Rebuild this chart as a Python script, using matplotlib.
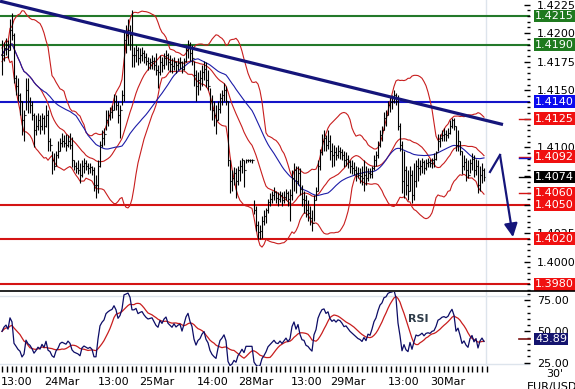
import numpy as np
import pandas as pd
import matplotlib
matplotlib.use("Agg")
import matplotlib.pyplot as plt
from matplotlib import transforms
from matplotlib.ticker import FixedLocator, MultipleLocator, FormatStrFormatter

# ---------------- data (EUR/USD 30' bars, prices in pips *1e-4) ----------------
high_pips = [
    14194, 14192, 14196, 14194, 14212, 14218, 14200, 14163, 14161, 14148,
    14141, 14133, 14161, 14161, 14144, 14141, 14130, 14128, 14130, 14128,
    14130, 14128, 14137, 14133, 14108, 14097, 14095, 14097, 14106, 14108,
    14113, 14111, 14112, 14111, 14113, 14109, 14089, 14087, 14089, 14086,
    14089, 14091, 14089, 14086, 14086, 14084, 14083, 14076, 14089, 14106,
    14115, 14117, 14133, 14133, 14135, 14137, 14147, 14146, 14141, 14137,
    14150, 14203, 14207, 14212, 14207, 14220, 14188, 14190, 14188, 14187,
    14188, 14185, 14183, 14179, 14178, 14181, 14179, 14183, 14172, 14181,
    14179, 14183, 14185, 14183, 14181, 14178, 14179, 14176, 14178, 14179,
    14176, 14178, 14190, 14194, 14192, 14190, 14176, 14168, 14166, 14168,
    14172, 14176, 14175, 14168, 14152, 14146, 14141, 14137, 14141, 14148,
    14150, 14156, 14154, 14141, 14089, 14080, 14083, 14082, 14084, 14089,
    14091, 14089, 14090, 14090, 14090, 14090, 14054, 14049, 14036, 14032,
    14040, 14045, 14047, 14055, 14060, 14062, 14065, 14062, 14061, 14062,
    14061, 14062, 14064, 14062, 14064, 14080, 14086, 14084, 14084, 14082,
    14067, 14062, 14058, 14054, 14049, 14045, 14058, 14065, 14089, 14099,
    14112, 14115, 14111, 14115, 14111, 14104, 14102, 14100, 14102, 14100,
    14099, 14097, 14096, 14093, 14089, 14089, 14087, 14084, 14083, 14082,
    14084, 14089, 14084, 14082, 14082, 14084, 14093, 14097, 14106, 14115,
    14119, 14131, 14133, 14141, 14144, 14146, 14150, 14148, 14146, 14121,
    14106, 14097, 14084, 14080, 14084, 14080, 14086, 14089, 14091, 14089,
    14091, 14089, 14090, 14091, 14090, 14091, 14095, 14097, 14112, 14112,
    14115, 14117, 14115, 14117, 14124, 14126, 14126, 14119, 14115, 14106,
    14097, 14093, 14091, 14089, 14090, 14095, 14093, 14090, 14089, 14084,
    14086, 14082]
low_pips = [
    14163, 14176, 14181, 14178, 14185, 14194, 14156, 14146, 14141, 14128,
    14111, 14106, 14133, 14130, 14130, 14124, 14100, 14111, 14115, 14112,
    14115, 14112, 14118, 14097, 14097, 14077, 14080, 14084, 14091, 14097,
    14100, 14100, 14097, 14100, 14099, 14083, 14080, 14078, 14077, 14069,
    14074, 14078, 14080, 14077, 14078, 14076, 14062, 14056, 14060, 14083,
    14100, 14102, 14115, 14119, 14124, 14126, 14133, 14133, 14121, 14108,
    14137, 14141, 14183, 14190, 14185, 14170, 14170, 14175, 14172, 14174,
    14176, 14174, 14172, 14168, 14169, 14169, 14168, 14163, 14152, 14163,
    14166, 14169, 14172, 14168, 14166, 14165, 14168, 14165, 14168, 14169,
    14165, 14168, 14175, 14178, 14176, 14172, 14154, 14141, 14146, 14150,
    14154, 14159, 14153, 14150, 14133, 14124, 14119, 14112, 14124, 14130,
    14137, 14141, 14137, 14084, 14060, 14062, 14067, 14056, 14067, 14071,
    14078, 14065, 14086, 14087, 14087, 14086, 14042, 14027, 14020, 14020,
    14021, 14032, 14034, 14043, 14049, 14051, 14054, 14051, 14049, 14052,
    14049, 14051, 14054, 14049, 14036, 14054, 14062, 14060, 14067, 14058,
    14049, 14043, 14039, 14036, 14032, 14027, 14036, 14054, 14062, 14080,
    14093, 14097, 14097, 14099, 14089, 14083, 14084, 14089, 14091, 14090,
    14089, 14083, 14084, 14082, 14078, 14077, 14076, 14071, 14073, 14069,
    14067, 14062, 14067, 14071, 14073, 14073, 14080, 14084, 14091, 14100,
    14106, 14115, 14119, 14128, 14131, 14134, 14139, 14137, 14115, 14097,
    14060, 14056, 14058, 14054, 14062, 14051, 14054, 14065, 14071, 14076,
    14078, 14077, 14080, 14083, 14083, 14082, 14083, 14089, 14097, 14100,
    14106, 14106, 14106, 14108, 14112, 14117, 14115, 14097, 14097, 14093,
    14077, 14080, 14071, 14073, 14078, 14080, 14074, 14076, 14060, 14062,
    14069, 14071]
close_pips = [
    14181, 14187, 14190, 14185, 14203, 14198, 14161, 14154, 14146, 14141,
    14124, 14128, 14150, 14141, 14137, 14128, 14115, 14119, 14124, 14119,
    14126, 14119, 14128, 14106, 14102, 14089, 14084, 14093, 14097, 14104,
    14106, 14104, 14102, 14106, 14102, 14089, 14084, 14082, 14080, 14076,
    14084, 14086, 14084, 14082, 14083, 14080, 14067, 14067, 14084, 14102,
    14108, 14112, 14124, 14128, 14131, 14133, 14141, 14137, 14128, 14133,
    14146, 14194, 14198, 14203, 14198, 14181, 14181, 14185, 14178, 14181,
    14183, 14179, 14176, 14174, 14175, 14176, 14172, 14168, 14166, 14175,
    14172, 14178, 14181, 14175, 14173, 14171, 14175, 14172, 14174, 14175,
    14169, 14176, 14185, 14190, 14183, 14178, 14163, 14154, 14159, 14161,
    14166, 14169, 14159, 14154, 14141, 14133, 14128, 14124, 14134, 14143,
    14146, 14150, 14141, 14089, 14071, 14073, 14078, 14071, 14080, 14084,
    14089, 14080, 14089, 14089, 14089, 14089, 14045, 14032, 14026, 14027,
    14036, 14040, 14045, 14052, 14055, 14058, 14061, 14056, 14055, 14058,
    14054, 14057, 14060, 14055, 14058, 14073, 14080, 14071, 14078, 14064,
    14055, 14054, 14045, 14043, 14038, 14034, 14054, 14062, 14084, 14096,
    14106, 14108, 14102, 14106, 14097, 14093, 14096, 14093, 14097, 14096,
    14093, 14089, 14090, 14087, 14084, 14082, 14080, 14078, 14076, 14075,
    14073, 14076, 14073, 14078, 14077, 14082, 14089, 14093, 14102, 14111,
    14115, 14126, 14128, 14137, 14140, 14141, 14146, 14141, 14119, 14102,
    14071, 14080, 14067, 14062, 14076, 14058, 14071, 14084, 14082, 14084,
    14087, 14082, 14086, 14087, 14086, 14089, 14090, 14096, 14106, 14108,
    14111, 14112, 14111, 14113, 14119, 14124, 14119, 14102, 14106, 14097,
    14084, 14087, 14080, 14076, 14086, 14090, 14080, 14084, 14067, 14076,
    14080, 14074]

x_tick_pos = [7.5, 30, 56, 77.5, 105.5, 127, 152.5, 173, 201, 223]
x_tick_labels = ["13:00", "24Mar", "13:00", "25Mar", "14:00", "28Mar",
                 "13:00", "29Mar", "13:00", "30Mar"]

green_levels = [1.4215, 1.4190]
blue_levels = [1.4140]
red_levels = [1.4050, 1.4020, 1.3980]

trend_idx = [-1, 250.5]
trend_px = [1.4228, 1.4120]

arrow_idx = [244, 249, 255.5]
arrow_px = [1.40785, 1.40934, 1.40215]

box_values = [1.4215, 1.4190, 1.4140, 1.4125, 1.4092, 1.4074, 1.4060, 1.4050, 1.4020, 1.3980]
box_kinds = ["g", "g", "b", "r", "r", "k", "r", "r", "r", "r"]
marker_values = [1.4125, 1.4092, 1.4074, 1.4060]
marker_kinds = ["r", "r", "k", "r"]
rsi_last = 43.89

# ---------------- derived series ----------------
high = np.array(high_pips) / 10000.0
low = np.array(low_pips) / 10000.0
close = np.array(close_pips) / 10000.0
opn = np.concatenate([[close[0]], close[:-1]])
n = len(close)
idx = np.arange(n)
cs = pd.Series(close)
mid = cs.rolling(20, min_periods=1).mean()
sd = cs.rolling(20, min_periods=2).std(ddof=0).bfill()
upper = mid + 2 * sd
lower = mid - 2 * sd
ma_slow = cs.rolling(38, min_periods=1).mean()

# Wilder RSI(14), averages seeded neutral (no earlier history available)
RSI_N = 14
delta = np.diff(close, prepend=close[0])
seed = np.abs(delta).mean() / 2
ag, al = seed, seed
rsi_vals = []
for d in delta:
    ag += (max(d, 0) - ag) / RSI_N
    al += (max(-d, 0) - al) / RSI_N
    rsi_vals.append(100 * ag / (ag + al))
rsi = pd.Series(rsi_vals)
rsi_sig = rsi.rolling(9, min_periods=1).mean()

# ---------------- colours ----------------
C = {"g": "#23792a", "b": "#1414c8", "r": "#d41414", "k": "#000000"}
BOX = {"g": "#1f7a1f", "b": "#0a0aee", "r": "#f01010", "k": "#000000"}
NAVY = "#15157a"
GRIDC = "#dde4ec"

W, H = 575, 389
fig = plt.figure(figsize=(W / 100, H / 100), dpi=100)
fig.patch.set_facecolor("white")
ax = fig.add_axes([0, 98 / H, 530 / W, 291 / H])
rx = fig.add_axes([0, 23 / H, 530 / W, 74 / H])

XL = (-1, 264)
for a in (ax, rx):
    a.set_xlim(*XL)
    for s in a.spines.values():
        s.set_visible(False)
    a.axvline(242, color=GRIDC, lw=1, zorder=0)

# ---------------- main panel ----------------
ax.set_ylim(1.39743, 1.42290)
for v in green_levels:
    ax.axhline(v, color=C["g"], lw=1.5, zorder=1)
for v in blue_levels:
    ax.axhline(v, color=C["b"], lw=1.5, zorder=1)
for v in red_levels:
    ax.axhline(v, color=C["r"], lw=1.5, zorder=1)

ax.plot(idx, upper, color="#c81e1e", lw=0.8, zorder=2)
ax.plot(idx, mid, color="#c81e1e", lw=0.8, zorder=2)
ax.plot(idx, lower, color="#c81e1e", lw=0.8, zorder=2)
ax.plot(idx, ma_slow, color="#1c1ca8", lw=0.8, zorder=2)

ax.vlines(idx, low, high, color="black", lw=0.8, zorder=3)
ax.hlines(opn, idx - 0.5, idx, color="black", lw=0.8, zorder=3)
ax.hlines(close, idx, idx + 0.5, color="black", lw=0.8, zorder=3)

ax.plot(trend_idx, trend_px, color=NAVY, lw=2.3, solid_capstyle="butt", zorder=4)
ax.plot(arrow_idx[:2], arrow_px[:2], color=NAVY, lw=1.6, zorder=4)
ax.annotate("", xy=(arrow_idx[2], arrow_px[2]), xytext=(arrow_idx[1], arrow_px[1]),
            arrowprops=dict(arrowstyle="-|>,head_length=0.8,head_width=0.4",
                            color=NAVY, lw=1.6, shrinkA=0, shrinkB=0), zorder=4)

bt = transforms.blended_transform_factory(ax.transAxes, ax.transData)
for v, k in zip(marker_values, marker_kinds):
    ax.plot([519 / 530, 1.0], [v, v], color=C[k], lw=1.0, transform=bt, clip_on=False, zorder=4)
ax.plot([519 / 530, 1.0], [1.40905, 1.40905], color=C["b"], lw=1.0, transform=bt,
        clip_on=False, zorder=4)

ax.yaxis.tick_right()
ax.yaxis.set_major_locator(FixedLocator(np.arange(1.4000, 1.42251, 0.0025)))
ax.yaxis.set_major_formatter(FormatStrFormatter("%.4f"))
ax.yaxis.set_minor_locator(MultipleLocator(0.0005))
ax.tick_params(axis="y", which="major", direction="in", length=4, width=1,
               pad=5, labelsize=8, colors="black")
ax.tick_params(axis="y", which="minor", direction="in", length=2.5, width=1)
ax.set_xticks([])

for v, k in zip(box_values, box_kinds):
    ax.text(535 / 530, v, "%.4f" % v, transform=bt, color="white", fontsize=8,
            va="center", ha="left", clip_on=False, zorder=10,
            bbox=dict(boxstyle="square,pad=0.12", fc=BOX[k], ec="none"))

# ---------------- RSI panel ----------------
rx.set_ylim(22.3, 81.5)
rx.axhline(78, color=GRIDC, lw=1, zorder=0)
rx.axhline(24, color=GRIDC, lw=1, zorder=0)
rx.plot(idx, rsi, color="#0c0c66", lw=0.9, zorder=3)
rx.plot(idx, rsi_sig, color="#c81e1e", lw=0.9, zorder=2)
rbt = transforms.blended_transform_factory(rx.transAxes, rx.transData)
rx.plot([519 / 530, 1.0], [rsi_last, rsi_last], color="#7a1010", lw=1.2,
        transform=rbt, clip_on=False)
rx.text(0.79, 0.63, "RSI", transform=rx.transAxes, fontsize=8, fontweight="bold",
        color="#2d3b48", ha="center", va="center")
rx.text(535 / 530, rsi_last, "%.2f" % rsi_last, transform=rbt, color="white", fontsize=8,
        va="center", ha="left", clip_on=False, zorder=10,
        bbox=dict(boxstyle="square,pad=0.12", fc="#14146e", ec="none"))

rx.yaxis.tick_right()
rx.yaxis.set_major_locator(FixedLocator([25, 50, 75]))
rx.yaxis.set_major_formatter(FormatStrFormatter("%.2f"))
rx.yaxis.set_minor_locator(MultipleLocator(5))
rx.tick_params(axis="y", which="major", direction="in", length=4, width=1,
               pad=5, labelsize=8)
rx.tick_params(axis="y", which="minor", direction="in", length=2.5, width=1)

rx.set_xticks(x_tick_pos)
rx.set_xticklabels(x_tick_labels)
rx.xaxis.set_minor_locator(FixedLocator(np.arange(0, 243, 2.4)))
rx.tick_params(axis="x", which="major", length=0, pad=8, labelsize=8)
rx.tick_params(axis="x", which="minor", direction="out", length=4, width=1, color="black")

# separator line between panels
fig.add_artist(plt.Line2D([0, 1], [1 - 291 / H, 1 - 291 / H], color="black", lw=1.2,
                          transform=fig.transFigure))

fig.text(555 / W, 1 - 374 / H, "30'", fontsize=8, ha="center", va="center")
fig.text(552 / W, 1 - 387 / H, "EUR/USD", fontsize=8, ha="center", va="center")

fig.savefig("out.png", dpi=100)
